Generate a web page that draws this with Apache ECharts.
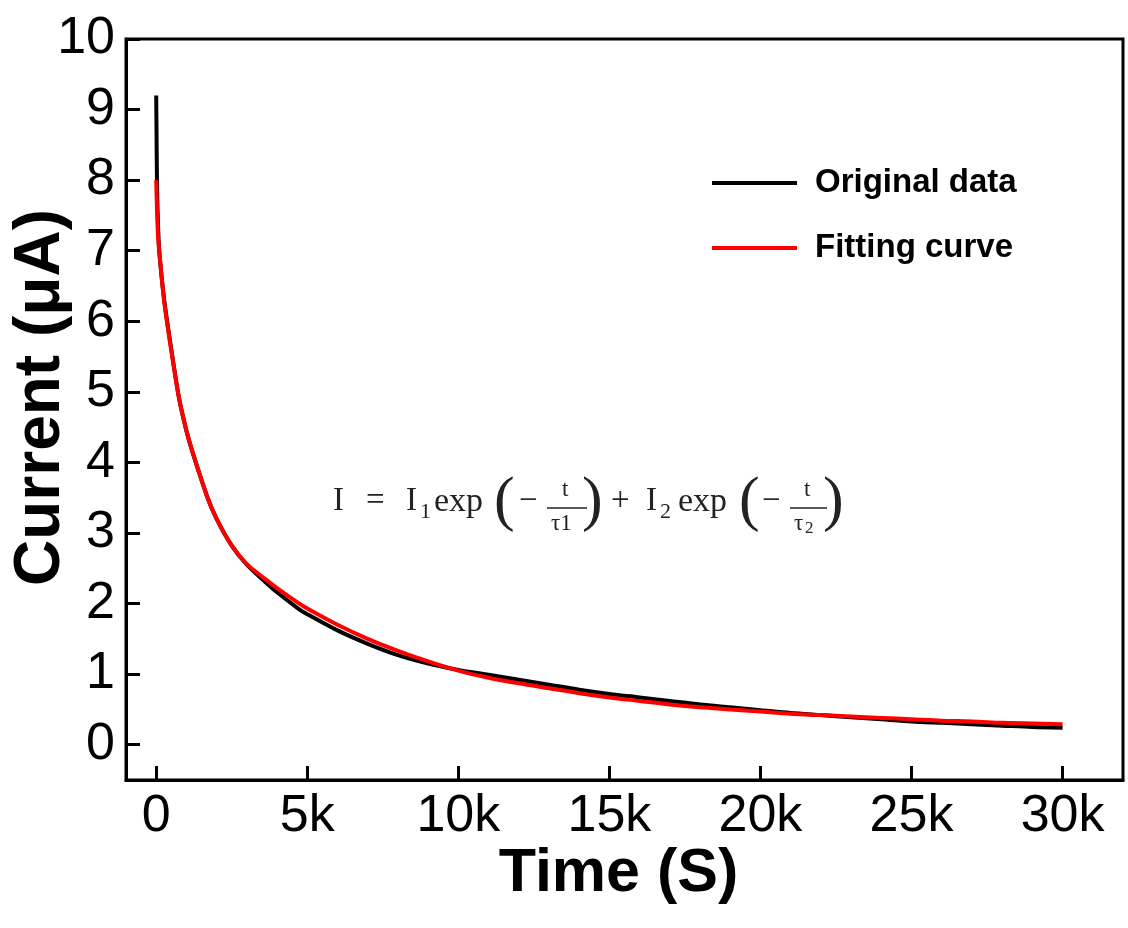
<!DOCTYPE html>
<html>
<head>
<meta charset="utf-8">
<script src="https://cdn.jsdelivr.net/npm/echarts@6/dist/echarts.min.js"></script>
<style>html,body{margin:0;padding:0;background:#fff;}#c{width:1128px;height:928px;}</style>
</head>
<body>
<div id="c"></div>
<script>
// ---- data ----
const timeOriginal = [0, 10, 25, 50, 100, 265, 500, 760, 1000, 1200, 1700, 2000, 2500, 3000, 3600, 4000, 4700, 5000, 6000, 7000, 8000, 9000, 10000, 11000, 12000, 13000, 14000, 15000, 16000, 17000, 18000, 19000, 20000, 21000, 22000, 23000, 24000, 25000, 26000, 27000, 28000, 29000, 30000];
const currentOriginal = [9.2, 8.7, 8.0, 7.5, 7.0, 6.3, 5.6, 4.9, 4.45, 4.15, 3.5, 3.2, 2.82, 2.55, 2.31, 2.16, 1.93, 1.85, 1.62, 1.43, 1.27, 1.15, 1.06, 0.99, 0.92, 0.85, 0.78, 0.72, 0.67, 0.62, 0.57, 0.53, 0.49, 0.45, 0.42, 0.39, 0.36, 0.33, 0.31, 0.29, 0.27, 0.25, 0.24];
const timeFit = [0, 50, 100, 265, 500, 760, 1000, 1200, 1700, 2000, 2500, 3000, 3600, 4000, 4700, 5000, 6000, 7000, 8000, 9000, 10000, 11000, 12000, 13000, 14000, 15000, 16000, 17000, 18000, 19000, 20000, 21000, 22000, 23000, 24000, 25000, 26000, 27000, 28000, 29000, 30000];
const currentFit = [8.0, 7.3, 7.0, 6.28, 5.58, 4.9, 4.45, 4.15, 3.5, 3.2, 2.82, 2.56, 2.35, 2.22, 2.01, 1.93, 1.7, 1.5, 1.33, 1.18, 1.05, 0.95, 0.87, 0.8, 0.73, 0.67, 0.62, 0.57, 0.53, 0.5, 0.47, 0.44, 0.42, 0.4, 0.38, 0.36, 0.34, 0.33, 0.31, 0.3, 0.29];
const seriesNames = ['Original data', 'Fitting curve'];
const xTickValues = [0, 5000, 10000, 15000, 20000, 25000, 30000];
const xTickLabels = ['0', '5k', '10k', '15k', '20k', '25k', '30k'];
const yTickValues = [0, 1, 2, 3, 4, 5, 6, 7, 8, 9, 10];
const xAxisName = 'Time (S)';
const yAxisName = 'Current (μA)';

const zip = (a, b) => a.map((v, i) => [v, b[i]]);

const chart = echarts.init(document.getElementById('c'), null, {renderer: 'canvas'});
const serif = 'Liberation Serif';
const fy = 502;
const F = (s) => s + 'px "' + serif + '"';
const option = {
  backgroundColor: '#fff',
  animation: false,
  grid: {left: 126, right: 5, top: 39, bottom: 148, show: true, borderColor: '#000', borderWidth: 3,
    backgroundColor: 'transparent', outerBoundsMode: 'none', containLabel: false},
  legend: {
    left: 712, top: 166, orient: 'vertical', itemWidth: 85, itemHeight: 4, itemGap: 31, padding: 0,
    icon: 'rect',
    textStyle: {fontFamily: 'Liberation Sans', fontWeight: 'bold', fontSize: 33, color: '#000', lineHeight: 34, padding: [0, 0, 0, 13]},
    data: seriesNames
  },
  xAxis: {
    type: 'value', min: -1000, max: 32000,
    name: xAxisName, nameLocation: 'middle', nameGap: 64, nameMoveOverlap: false,
    nameTextStyle: {fontFamily: 'Liberation Sans', fontWeight: 'bold', fontSize: 61, color: '#000', padding: [0, 12, 0, 0]},
    axisLine: {show: true, onZero: false, lineStyle: {color: '#000', width: 3}},
    axisTick: {show: true, inside: true, length: 14, lineStyle: {color: '#000', width: 3}, customValues: xTickValues},
    axisLabel: {fontFamily: 'Liberation Sans', fontSize: 52, color: '#000', margin: 11, customValues: xTickValues,
      formatter: v => xTickLabels[xTickValues.indexOf(v)]},
    splitLine: {show: false}
  },
  yAxis: {
    type: 'value', min: -0.5, max: 10,
    name: yAxisName, nameLocation: 'middle', nameGap: 53, nameRotate: 90, nameMoveOverlap: false,
    nameTextStyle: {fontFamily: 'Liberation Sans', fontWeight: 'bold', fontSize: 64, color: '#000', padding: [0, 0, 0, 24]},
    axisLine: {show: true, onZero: false, lineStyle: {color: '#000', width: 3}},
    axisTick: {show: true, inside: true, length: 14, lineStyle: {color: '#000', width: 3}, customValues: yTickValues},
    axisLabel: {fontFamily: 'Liberation Sans', fontSize: 52, color: '#000', margin: 11, customValues: yTickValues},
    splitLine: {show: false}
  },
  series: [
    {name: seriesNames[0], type: 'line', data: zip(timeOriginal, currentOriginal), showSymbol: false, symbol: 'none', smooth: 0.3,
      lineStyle: {color: '#000', width: 4}, itemStyle: {color: '#000'}},
    {name: seriesNames[1], type: 'line', data: zip(timeFit, currentFit), showSymbol: false, symbol: 'none', smooth: 0.3,
      lineStyle: {color: '#f00', width: 4}, itemStyle: {color: '#f00'}}
  ],
  graphic: [
    {type: 'text', left: 333, top: fy - 17, style: {text: 'I', font: F(33), fill: '#222'}},
    {type: 'text', left: 366, top: fy - 17, style: {text: '=', font: F(33), fill: '#222'}},
    {type: 'text', left: 406, top: fy - 17, style: {text: 'I', font: F(33), fill: '#222'}},
    {type: 'text', left: 420, top: fy - 1, style: {text: '1', font: F(22), fill: '#222'}},
    {type: 'text', left: 434, top: fy - 17, style: {text: 'exp', font: F(34), fill: '#222'}},
    {type: 'text', left: 494, top: fy - 30, style: {text: '(', font: F(62), fill: '#222'}},
    {type: 'text', left: 519, top: fy - 17, style: {text: '−', font: F(33), fill: '#222'}},
    {type: 'text', left: 562, top: fy - 24, style: {text: 't', font: F(23), fill: '#222'}},
    {type: 'line', shape: {x1: 547, y1: 508, x2: 587, y2: 508}, style: {stroke: '#222', lineWidth: 1.5}},
    {type: 'text', left: 551, top: fy + 10, style: {text: 'τ1', font: F(23), fill: '#222'}},
    {type: 'text', left: 582, top: fy - 30, style: {text: ')', font: F(62), fill: '#222'}},
    {type: 'text', left: 611, top: fy - 17, style: {text: '+', font: F(33), fill: '#222'}},
    {type: 'text', left: 646, top: fy - 17, style: {text: 'I', font: F(33), fill: '#222'}},
    {type: 'text', left: 660, top: fy - 1, style: {text: '2', font: F(22), fill: '#222'}},
    {type: 'text', left: 678, top: fy - 17, style: {text: 'exp', font: F(34), fill: '#222'}},
    {type: 'text', left: 739, top: fy - 30, style: {text: '(', font: F(62), fill: '#222'}},
    {type: 'text', left: 762, top: fy - 17, style: {text: '−', font: F(33), fill: '#222'}},
    {type: 'text', left: 804, top: fy - 24, style: {text: 't', font: F(23), fill: '#222'}},
    {type: 'line', shape: {x1: 790, y1: 508, x2: 827, y2: 508}, style: {stroke: '#222', lineWidth: 1.5}},
    {type: 'text', left: 794, top: fy + 10, style: {text: 'τ', font: F(23), fill: '#222'}},
    {type: 'text', left: 805, top: fy + 18, style: {text: '2', font: F(17), fill: '#222'}},
    {type: 'text', left: 823, top: fy - 30, style: {text: ')', font: F(62), fill: '#222'}}
  ]
};
chart.setOption(option);
</script>
</body>
</html>
